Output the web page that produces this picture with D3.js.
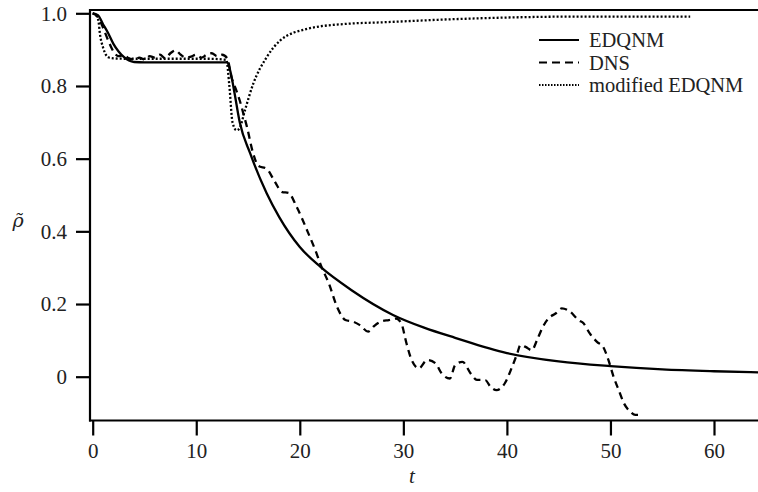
<!DOCTYPE html>
<html>
<head>
<meta charset="utf-8">
<script src="https://cdn.jsdelivr.net/npm/d3@7"></script>
<style>
html,body{margin:0;padding:0;background:#fff;}
svg{display:block;}
svg text{font-family:'Liberation Serif','Times New Roman',Times,serif;fill:#222;}
svg text.rho{font-family:'DejaVu Serif',serif;}
</style>
</head>
<body>
<svg id="chart" width="758" height="492"></svg>
<script>
// ---- data ----
const xTicks = [0, 10, 20, 30, 40, 50, 60];
const yTicks = [0, 0.2, 0.4, 0.6, 0.8, 1.0];
const seriesNames = ["EDQNM", "DNS", "modified EDQNM"];

const tEDQNM = [0,0.5,1,1.5,2,2.5,3,3.5,4,5,8,11,13,13.3,13.7,14.2,15.2,16.8,18,20,22,25,29,32,35,40,45,50,55,60,64.5];
const vEDQNM = [1.0,0.995,0.97,0.945,0.916,0.895,0.88,0.87,0.866,0.865,0.865,0.865,0.865,0.84,0.78,0.70,0.615,0.505,0.44,0.357,0.302,0.238,0.17,0.135,0.107,0.065,0.042,0.029,0.02,0.015,0.012];

const tDNS = [0,0.5,1,1.5,2,2.5,3,3.5,4,4.5,5,5.5,6,6.5,7,7.5,8,8.5,9,9.5,10,10.5,11,11.5,12,12.5,13,13.4,13.75,14.2,14.55,14.9,15.5,16,16.8,17.6,18.3,18.9,19.7,20.7,21.5,22.1,22.8,23.6,24.4,25.2,25.8,26.6,27.2,27.8,28.6,29.3,29.8,30.3,30.8,31.5,32.3,33.1,33.7,34.5,35,35.7,36.5,37.1,37.9,38.4,39,39.8,40.5,41,41.3,41.8,42.4,42.9,43.4,44,44.7,45.3,46.1,46.9,47.4,48,48.7,49.3,49.8,50.3,50.8,51.3,51.9,52.4,52.9];
const vDNS = [1.0,0.99,0.96,0.925,0.895,0.882,0.885,0.876,0.872,0.878,0.873,0.882,0.878,0.886,0.876,0.89,0.898,0.886,0.878,0.881,0.886,0.878,0.886,0.89,0.882,0.886,0.876,0.824,0.797,0.76,0.724,0.687,0.614,0.58,0.572,0.536,0.508,0.506,0.467,0.403,0.348,0.302,0.257,0.192,0.156,0.151,0.142,0.124,0.14,0.151,0.156,0.16,0.147,0.092,0.046,0.023,0.046,0.037,0.009,-0.005,0.032,0.041,0.009,-0.009,-0.009,-0.027,-0.037,-0.018,0.027,0.064,0.087,0.082,0.073,0.1,0.133,0.16,0.174,0.188,0.179,0.156,0.147,0.119,0.096,0.082,0.046,0.0,-0.037,-0.073,-0.096,-0.105,-0.105];

const tMod = [0,0.3,0.55,0.7,1.0,1.5,2,3,5,8,11,12.9,13.2,13.5,13.9,14.2,14.7,15.5,16.8,18.1,20.7,24.5,27.8,35,47,57.7];
const vMod = [1.0,0.995,0.98,0.943,0.906,0.879,0.876,0.875,0.875,0.875,0.875,0.872,0.80,0.70,0.678,0.685,0.733,0.806,0.879,0.925,0.957,0.971,0.975,0.984,0.991,0.991];

// ---- layout ----
const svg = d3.select("#chart");
const x = d3.scaleLinear().domain([0, 60]).range([92.7, 714]);
const y = d3.scaleLinear().domain([0, 1]).range([376.7, 13.3]);
const xMin = x.invert(90), xMax = x.invert(758);
const yMin = y.invert(420.5), yMax = y.invert(10);

// top frame line
svg.append("line").attr("x1", x(xMin)).attr("x2", x(xMax)).attr("y1", y(yMax)).attr("y2", y(yMax))
  .attr("stroke", "#000").attr("stroke-width", 2.2);

// axes
const yAxis = d3.axisLeft(y).tickValues(yTicks).tickSize(14).tickPadding(9)
  .tickFormat(d => d === 0 ? "0" : d3.format(".1f")(d));
const gy = svg.append("g").attr("transform", `translate(${x(xMin)},0)`).call(yAxis);
gy.select(".domain").remove();
gy.append("line").attr("x1", 0).attr("x2", 0).attr("y1", y(yMax) - 1).attr("y2", y(yMin) + 1)
  .attr("stroke", "#000").attr("stroke-width", 2.2);

const xAxis = d3.axisBottom(x).tickValues(xTicks).tickSize(15).tickPadding(8).tickFormat(d3.format("d"));
const gx = svg.append("g").attr("transform", `translate(0,${y(yMin)})`).call(xAxis);
gx.select(".domain").remove();
gx.append("line").attr("x1", x(xMin) - 1).attr("x2", x(xMax)).attr("y1", 0).attr("y2", 0)
  .attr("stroke", "#000").attr("stroke-width", 2.2);

[gx, gy].forEach(g => {
  g.attr("font-family", null).attr("font-size", null);
  g.selectAll(".tick line").attr("stroke", "#000").attr("stroke-width", 2.2);
  g.selectAll(".tick text").attr("font-size", 21).attr("fill", "#222");
});

// axis titles
svg.append("text").attr("x", 412).attr("y", 483).attr("text-anchor", "middle")
  .attr("font-style", "italic").attr("font-size", 21).text("t");
svg.append("text").attr("class", "rho").attr("x", 18).attr("y", 227).attr("text-anchor", "middle")
  .attr("font-style", "italic").attr("font-size", 19).text("ρ\u0303");

// lines
const line = d3.line().x(d => x(d[0])).y(d => y(d[1])).curve(d3.curveMonotoneX);
const zip = (a, b) => a.map((t, i) => [t, b[i]]);
const styles = [
  {name: seriesNames[0], data: zip(tEDQNM, vEDQNM), dash: null},
  {name: seriesNames[1], data: zip(tDNS, vDNS), dash: "7,5"},
  {name: seriesNames[2], data: zip(tMod, vMod), dash: "2,2"}
];
const plot = svg.append("g");
styles.forEach(s => {
  plot.append("path").attr("d", line(s.data)).attr("fill", "none").attr("stroke", "#000")
    .attr("stroke-width", 2.3).attr("stroke-dasharray", s.dash);
});

// legend
const leg = svg.append("g").attr("transform", "translate(539,40)");
styles.forEach((s, i) => {
  const g = leg.append("g").attr("transform", `translate(0,${i * 22.5})`);
  g.append("line").attr("x1", 0).attr("x2", 40).attr("y1", 0).attr("y2", 0)
    .attr("stroke", "#000").attr("stroke-width", s.dash === "2,2" ? 1.8 : 2.2)
    .attr("stroke-dasharray", s.dash === "2,2" ? "1.5,1.5" : (s.dash ? "8,5" : null));
  g.append("text").attr("x", 50).attr("y", 7).attr("font-size", 20.5).text(s.name);
});
</script>
</body>
</html>
